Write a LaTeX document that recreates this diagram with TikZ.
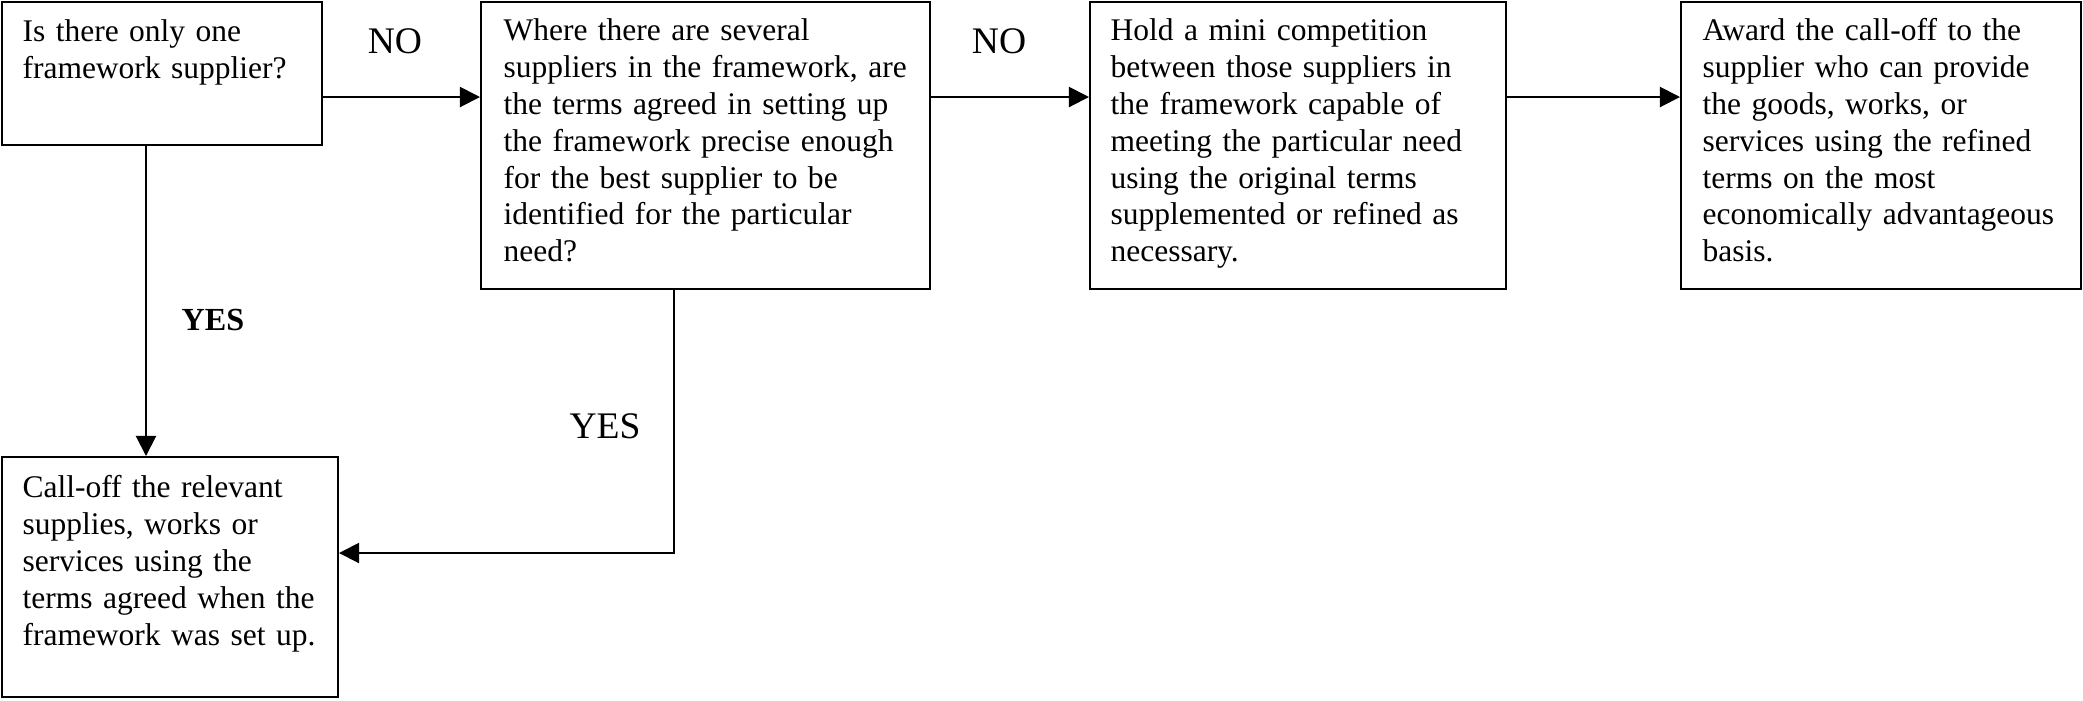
\documentclass[tikz,border=0pt]{standalone}
\usepackage{fontspec}
\setmainfont{Liberation Serif}
\usetikzlibrary{arrows.meta,fit}
\begin{document}
\begin{tikzpicture}[x=0.373pt,y=-0.373pt,
  box/.style={draw, line width=0.75pt, inner sep=0pt},
  txt/.style={anchor=base west, inner sep=0pt, align=left, text width=170pt, font=\fontsize{11.75}{13.8}\selectfont},
  lbl/.style={anchor=base, inner sep=0pt, font=\fontsize{14}{16}\selectfont},
  arr/.style={line width=0.75pt, -{Triangle[length=7.5pt,width=7.5pt]}}
]
\fill[white] (0,0) rectangle (2083,700);
\useasboundingbox (0,0) rectangle (2083,700);

\node[box, fit={(2,1.5) (322,145)}] (b1) {};
\node[box, fit={(481,1.5) (930,289)}] (b2) {};
\node[box, fit={(1090,1.5) (1506,289)}] (b3) {};
\node[box, fit={(1681,1.5) (2081,289)}] (b4) {};
\node[box, fit={(2,457) (338,697)}] (b5) {};

\node[txt] (t1) at (22,41) {Is there only one\\framework supplier?};
\node[txt] (t2) at (503,40) {Where there are several\\suppliers in the framework, are\\the terms agreed in setting up\\the framework precise enough\\for the best supplier to be\\identified for the particular\\need?};
\node[txt] (t3) at (1110,40) {Hold a mini competition\\between those suppliers in\\the framework capable of\\meeting the particular need\\using the original terms\\supplemented or refined as\\necessary.};
\node[txt] (t4) at (1702,40) {Award the call-off to the\\supplier who can provide\\the goods, works, or\\services using the refined\\terms on the most\\economically advantageous\\basis.};
\node[txt] (t5) at (22,497) {Call-off the relevant\\supplies, works or\\services using the\\terms agreed when the\\framework was set up.};

\coordinate (rowy) at (0,97);
\draw[arr] (b1.east|-rowy) -- (b2.west|-rowy);
\draw[arr] (b2.east|-rowy) -- (b3.west|-rowy);
\draw[arr] (b3.east|-rowy) -- (b4.west|-rowy);
\coordinate (c1) at (146,0);
\draw[arr] (b1.south-|c1) -- (b5.north-|c1);
\coordinate (c2) at (674,553);
\draw[arr] (b2.south-|c2) |- (b5.east|-c2);

\node[lbl] (no1) at (395,53) {NO};
\node[lbl] (no2) at (999,53) {NO};
\node[lbl, font=\fontsize{12}{14}\selectfont\bfseries] (yes1) at (213,330) {YES};
\node[lbl] (yes2) at (605,438) {YES};
\end{tikzpicture}
\end{document}
